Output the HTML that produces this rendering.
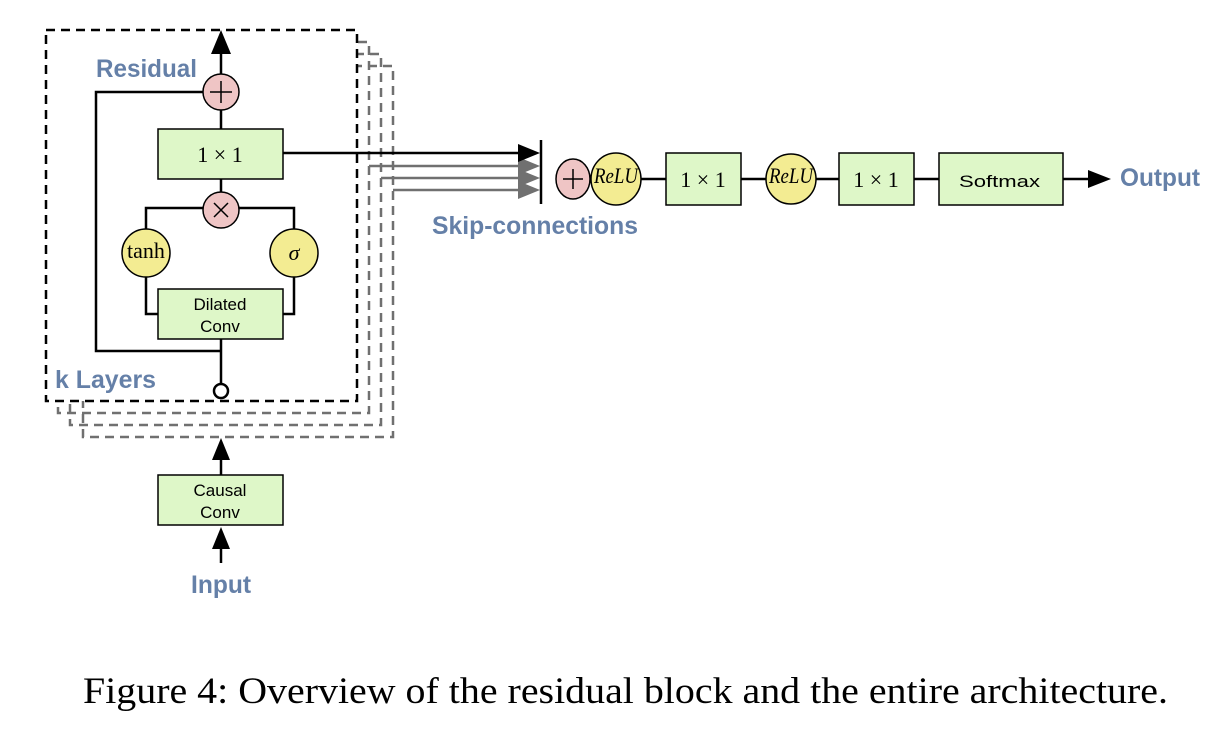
<!DOCTYPE html>
<html><head><meta charset="utf-8"><style>
body{margin:0;background:#fff;}
svg{display:block;}
.b{font-family:"Liberation Sans",sans-serif;font-weight:bold;fill:#6580a8;font-size:25px;}
.s{font-family:"Liberation Sans",sans-serif;font-size:17px;fill:#000;}
.m{font-family:"Liberation Serif",serif;font-size:22px;fill:#000;}
</style></head><body>
<svg width="1224" height="744" viewBox="0 0 1224 744" xmlns="http://www.w3.org/2000/svg">
<g fill="none" stroke="#707070" stroke-width="2.5" stroke-dasharray="9,6">
<rect x="83" y="66" width="310" height="371"/>
<rect x="70" y="54" width="311" height="371"/>
<rect x="58" y="42" width="311" height="371"/>
</g>
<rect x="46" y="30" width="311" height="371" fill="#fff" stroke="none"/>
<rect x="46" y="30" width="311" height="371" fill="none" stroke="#000" stroke-width="2.5" stroke-dasharray="9,6"/>
<g stroke="#707070" stroke-width="2.5">
<line x1="369" y1="166" x2="520" y2="166"/>
<line x1="381" y1="178" x2="520" y2="178"/>
<line x1="393" y1="190" x2="520" y2="190"/>
</g>
<g fill="#707070">
<path d="M518,157 L540,166 L518,175z"/>
<path d="M518,169 L540,178 L518,187z"/>
<path d="M518,181 L540,190 L518,199z"/>
</g>
<line x1="283" y1="153" x2="520" y2="153" stroke="#000" stroke-width="2.5"/>
<path d="M518,144 L540,153 L518,162z" fill="#000"/>
<line x1="541" y1="140" x2="541" y2="204" stroke="#000" stroke-width="2.5"/>
<g stroke="#000" stroke-width="2.5" fill="none">
<line x1="221" y1="50" x2="221" y2="74"/>
<line x1="221" y1="110" x2="221" y2="129"/>
<line x1="221" y1="179" x2="221" y2="192"/>
<polyline points="203,92 96,92 96,351 221,351"/>
<line x1="221" y1="339" x2="221" y2="384"/>
<polyline points="203,208 146,208 146,229"/>
<polyline points="239,208 294,208 294,229"/>
<polyline points="146,277 146,314 158,314"/>
<polyline points="294,277 294,314 283,314"/>
</g>
<path d="M211,54 L221,30 L231,54z" fill="#000"/>
<circle cx="221" cy="391" r="7" fill="#fff" stroke="#000" stroke-width="2.5"/>
<rect x="158" y="129" width="125" height="50" fill="#def7c8" stroke="#000" stroke-width="1.5"/>
<text x="220" y="162" class="m" text-anchor="middle">1 × 1</text>
<circle cx="221" cy="92" r="18" fill="#efc5c5" stroke="#000" stroke-width="1.5"/>
<path d="M210,92 H232 M221,81 V103" stroke="#000" stroke-width="1.5"/>
<circle cx="221" cy="210" r="18" fill="#efc5c5" stroke="#000" stroke-width="1.5"/>
<path d="M214,203 L228,217 M228,203 L214,217" stroke="#000" stroke-width="1.5"/>
<circle cx="146" cy="253" r="24" fill="#f3ec92" stroke="#000" stroke-width="1.5"/>
<text x="146" y="258" class="m" text-anchor="middle" font-size="16">tanh</text>
<circle cx="294" cy="253" r="24" fill="#f3ec92" stroke="#000" stroke-width="1.5"/>
<text x="294" y="260" class="m" text-anchor="middle" font-style="italic" font-size="24">σ</text>
<rect x="158" y="289" width="125" height="50" fill="#def7c8" stroke="#000" stroke-width="1.5"/>
<text x="220" y="310" class="s" text-anchor="middle">Dilated</text>
<text x="220" y="332" class="s" text-anchor="middle">Conv</text>
<text x="96" y="77" class="b" textLength="101" lengthAdjust="spacingAndGlyphs">Residual</text>
<text x="55" y="388" class="b" textLength="101" lengthAdjust="spacingAndGlyphs">k Layers</text>
<text x="432" y="234" class="b" textLength="206" lengthAdjust="spacingAndGlyphs">Skip-connections</text>
<line x1="221" y1="475" x2="221" y2="455" stroke="#000" stroke-width="2.5"/>
<path d="M212,460 L221,438 L230,460z" fill="#000"/>
<rect x="158" y="475" width="125" height="50" fill="#def7c8" stroke="#000" stroke-width="1.5"/>
<text x="220" y="496" class="s" text-anchor="middle">Causal</text>
<text x="220" y="518" class="s" text-anchor="middle">Conv</text>
<line x1="221" y1="563" x2="221" y2="545" stroke="#000" stroke-width="2.5"/>
<path d="M212,549 L221,527 L230,549z" fill="#000"/>
<text x="191" y="593" class="b" textLength="60" lengthAdjust="spacingAndGlyphs">Input</text>
<line x1="640" y1="179" x2="1090" y2="179" stroke="#000" stroke-width="2.5"/>
<path d="M1088,170 L1111,179 L1088,188z" fill="#000"/>
<ellipse cx="573" cy="179" rx="17" ry="20" fill="#efc5c5" stroke="#000" stroke-width="1.5"/>
<path d="M563,179 H583 M573,169 V189" stroke="#000" stroke-width="1.5"/>
<ellipse cx="616" cy="179" rx="25" ry="26" fill="#f3ec92" stroke="#000" stroke-width="1.5"/>
<text x="616" y="183" class="m" text-anchor="middle" font-style="italic" font-size="12" textLength="44" lengthAdjust="spacingAndGlyphs">ReLU</text>
<rect x="666" y="153" width="75" height="52" fill="#def7c8" stroke="#000" stroke-width="1.5"/>
<text x="703" y="187" class="m" text-anchor="middle">1 × 1</text>
<ellipse cx="791" cy="179" rx="25" ry="25" fill="#f3ec92" stroke="#000" stroke-width="1.5"/>
<text x="791" y="183" class="m" text-anchor="middle" font-style="italic" font-size="12" textLength="44" lengthAdjust="spacingAndGlyphs">ReLU</text>
<rect x="839" y="153" width="75" height="52" fill="#def7c8" stroke="#000" stroke-width="1.5"/>
<text x="876" y="187" class="m" text-anchor="middle">1 × 1</text>
<rect x="939" y="153" width="124" height="52" fill="#def7c8" stroke="#000" stroke-width="1.5"/>
<text x="959" y="187" class="s" font-size="20" textLength="81" lengthAdjust="spacingAndGlyphs">Softmax</text>
<text x="1120" y="186" class="b" textLength="80" lengthAdjust="spacingAndGlyphs">Output</text>
<text x="83" y="703" font-family="Liberation Serif,serif" font-size="37" textLength="1085" lengthAdjust="spacingAndGlyphs">Figure 4: Overview of the residual block and the entire architecture.</text>
</svg>
</body></html>
